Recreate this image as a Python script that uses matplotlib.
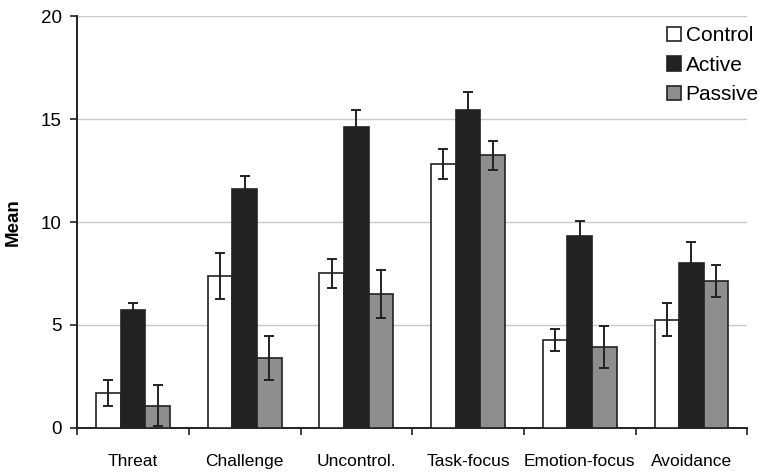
import matplotlib
matplotlib.use("Agg")
import matplotlib.pyplot as plt
import numpy as np

plt.rcParams['font.family'] = ['Liberation Sans', 'DejaVu Sans']

categories = ["Threat", "Challenge", "Uncontrol.", "Task-focus", "Emotion-focus", "Avoidance"]
series = ["Control", "Active", "Passive"]
control = [1.71, 7.38, 7.51, 12.82, 4.29, 5.26]
control_err = [0.64, 1.10, 0.70, 0.75, 0.53, 0.80]
active = [5.73, 11.60, 14.63, 15.44, 9.33, 8.00]
active_err = [0.34, 0.65, 0.80, 0.90, 0.70, 1.05]
passive = [1.07, 3.40, 6.50, 13.24, 3.93, 7.14]
passive_err = [1.00, 1.05, 1.15, 0.70, 1.00, 0.77]

values = [control, active, passive]
errors = [control_err, active_err, passive_err]
colors = ["white", "#222222", "#8e8e8e"]

fig = plt.figure(figsize=(7.64, 4.76), dpi=100)
ax = fig.add_axes([0.101, 0.101, 0.877, 0.865])

x = np.arange(len(categories))
w = 0.22
for i, (vals, errs, c, name) in enumerate(zip(values, errors, colors, series)):
    ax.bar(x + (i - 1) * w, vals, w, color=c, edgecolor="#222222", linewidth=1.2,
           yerr=errs, capsize=3.5, error_kw=dict(ecolor="#222222", elinewidth=1.4, capthick=1.4),
           label=name, zorder=3)

ax.set_xlim(-0.5, len(categories) - 0.5)
ax.set_ylim(0, 20)
ax.set_yticks([0, 5, 10, 15, 20])
ax.yaxis.grid(True, color="#c8c8c8", linewidth=1.0, zorder=0)
ax.set_axisbelow(True)

ax.set_xticks(np.arange(len(categories) + 1) - 0.5)
ax.set_xticklabels([])
ax.set_xticks(x, minor=True)
ax.set_xticklabels(categories, minor=True, fontsize=12.5)
ax.tick_params(axis='x', which='minor', length=0, pad=19)
ax.tick_params(axis='x', which='major', direction='out', length=5, width=1.2, color="#222222")
ax.tick_params(axis='y', direction='out', length=5, width=1.2, color="#222222", labelsize=13.5, pad=6)

for s in ["top", "right"]:
    ax.spines[s].set_visible(False)
for s in ["left", "bottom"]:
    ax.spines[s].set_linewidth(1.4)
    ax.spines[s].set_color("#222222")

ax.set_ylabel("Mean", fontsize=13.5, fontweight="bold", labelpad=14)

leg = ax.legend(loc="upper left", bbox_to_anchor=(0.88, 0.975), frameon=False, fontsize=15,
                handlelength=0.7, handleheight=0.7, handletextpad=0.2, labelspacing=0.5,
                borderaxespad=0.0, borderpad=0.0)

fig.savefig("out.png", dpi=100)
